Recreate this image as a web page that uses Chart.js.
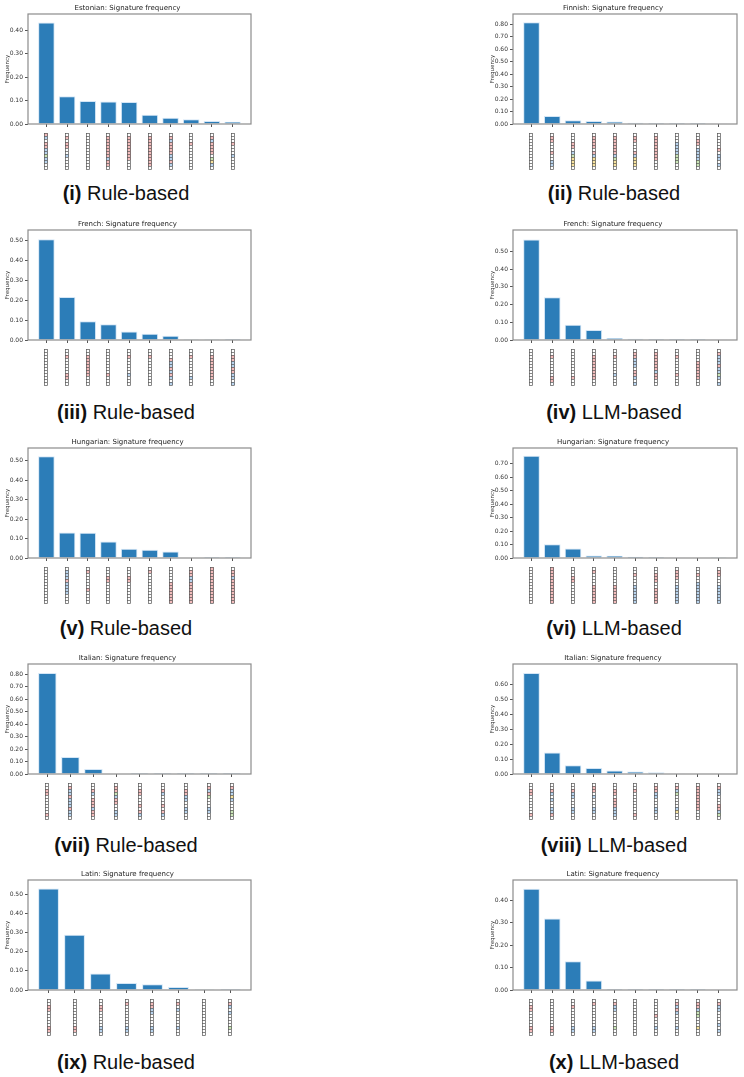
<!DOCTYPE html>
<html>
<head>
<meta charset="utf-8">
<script src="https://cdn.jsdelivr.net/npm/chart.js@4.4.1/dist/chart.umd.min.js"></script>
<style>
  body { margin: 0; background: #fff; }
  #page { position: relative; width: 744px; height: 1077px; overflow: hidden; }
  canvas { position: absolute; }
  .cap {
    position: absolute; transform: translate(-50%, -50%);
    font-family: "Liberation Sans", Arial, sans-serif; font-size: 20px; color: #111;
    white-space: nowrap;
  }
</style>
</head>
<body>
<div id="page"></div>
<script>
// Bar heights (frequency of the top signatures)
const estonianRule = [0.433, 0.118, 0.098, 0.096, 0.094, 0.039, 0.027, 0.020, 0.013, 0.010];
const finnishRule = [0.817, 0.064, 0.030, 0.025, 0.020, 0.010, 0.009, 0.008, 0.008, 0.003];
const frenchRule = [0.508, 0.217, 0.095, 0.080, 0.043, 0.032, 0.022, 0.001, 0.0008, 0.0006];
const frenchLlm = [0.568, 0.242, 0.086, 0.056, 0.011, 0.007, 0.006, 0.005, 0.005, 0.002];
const hungarianRule = [0.524, 0.131, 0.130, 0.085, 0.047, 0.043, 0.033, 0.002, 0.0006, 0.0004];
const hungarianLlm = [0.760, 0.103, 0.070, 0.018, 0.017, 0.010, 0.008, 0.005, 0.004, 0.001];
const italianRule = [0.808, 0.137, 0.040, 0.005, 0.001, 0.0008, 0.0006, 0.0005, 0.0004];
const italianLlm = [0.677, 0.145, 0.059, 0.041, 0.023, 0.016, 0.011, 0.005, 0.004, 0.003];
const latinRule = [0.532, 0.290, 0.086, 0.037, 0.030, 0.016, 0.001, 0.0004];
const latinLlm = [0.452, 0.319, 0.128, 0.042, 0.005, 0.005, 0.004, 0.004, 0.004, 0.003];

// Signature glyphs under each bar: . empty, r red, b blue, g green, y yellow
const estonianRuleSigs = ['rb.rrbbgbb..', '.r.rr..b....', '............', '.rrrrrrrbrr.', '.rrrrrrrr...',
  '.rrrrrrrrrr.', '.rbrrrrbbrb.', '...r........', '.rbrrrr.gyb.', '...r...b....'];
const finnishRuleSigs = ['............', '.rr...r..bb.', '...rr.bgyyy.', '.rrrr.rbyyy.', '.rrrrrrbgyy.',
  '.rr...rbyyy.', '.rrrrrrrr...', '...bbbbggg..', '..rr.bbbbgg.', '.....r.bb.b.'];
const frenchRuleSigs = ['............', '..r.....rr..', '..rrrrrrr...', '........r...', '..r.....b...',
  '..r.........', '...rbbrbrb.b', '..r......b..', '..rrrrrrrr..', '..rrbbrrbb.b'];
const frenchLlmSigs = ['............', '..r......rr.', '.........r..', '..rrrrrrrr..', '..r.....b...',
  '.rrbbb.rrb.b', '.rrrrrrbrr..', '..r.....r...', '....rrrrrr..', '.rbbbrbbgb.b'];
const hungarianRuleSigs = ['............', '.bbbrbbbb...', '.r.....r....', '...rr.......', '...rr.......',
  '.r..........', '.....rrrrrrr', '.rrbbrrrrrrr', 'rrrrrrrrrrrr', '.rrbrrrrrrrr'];
const hungarianLlmSigs = ['............', 'rrrrrrrrrrrr', '...rr.......', '.r....rrrrrr', '......rrrrrr',
  '..r...bbbbbb', '..rrr..rrrrr', '.rrr..bbbbbb', '..r..bbbbbbb', '.rr...bbbbbb'];
const italianRuleSigs = ['..rr......r.', '.rbbrbbbrbb.', '..rb.rrrbrr.', '.rrgbrr..bb.', '..rr...r.rb.',
  '..rb...r.rb.', '..rrbb..bb..', '.rbrg...bb..', '.rbbyb...gg.'];
const italianLlmSigs = ['..rr......r.', '..rb.b..bbr.', '..rbb...bb..', '.rr.b...bb..', '..rr.rrrbbb.',
  '..r.......r.', '.rrbb...bb..', '.rbg....by..', '.rrrrrrrr...', '.rbb...rrbg.'];
const latinRuleSigs = ['..rr.....rr.', '.........rr.', '..rr.....bb.', '.r.......bb.', '.rrbb....bb.',
  '.r.b.....b..', '............', '.rb.b....g..'];
const latinLlmSigs = ['..rr.....rr.', '.........rr.', '..r......bb.', '.r.......bb.', '.rbb.....g..',
  '............', '.....r...b..', '.rbrb....b..', '.rrbgg...y..', '.rbb....b.b.'];

const panelTitles = ['Estonian', 'Finnish', 'French', 'French', 'Hungarian', 'Hungarian',
  'Italian', 'Italian', 'Latin', 'Latin'];
const panelNumerals = ['(i)', '(ii)', '(iii)', '(iv)', '(v)', '(vi)', '(vii)', '(viii)', '(ix)', '(x)'];
const panelMethods = ['Rule-based', 'Rule-based', 'Rule-based', 'LLM-based', 'Rule-based', 'LLM-based',
  'Rule-based', 'LLM-based', 'Rule-based', 'LLM-based'];
const yLimits = [0.469, 0.884, 0.555, 0.621, 0.566, 0.818, 0.881, 0.738, 0.577, 0.491];

const panelValues = [estonianRule, finnishRule, frenchRule, frenchLlm, hungarianRule, hungarianLlm,
  italianRule, italianLlm, latinRule, latinLlm];
const panelSigs = [estonianRuleSigs, finnishRuleSigs, frenchRuleSigs, frenchLlmSigs, hungarianRuleSigs,
  hungarianLlmSigs, italianRuleSigs, italianLlmSigs, latinRuleSigs, latinLlmSigs];

// layout
const rowTops = [14, 230, 448, 664, 880];     // top of the axes box
const capCenters = [193, 412, 628, 845, 1062];
const colLeft = [4, 489];
const colCapX = [126, 614];
const TITLE_H = 14, AXES_H = 110, GLYPH_H = 48, Y_W = 24;

const cellColors = { '.': '#ffffff', r: '#f3bcbc', b: '#b9d4ee', g: '#cbe6b8', y: '#f8e39e' };
const FONT = 'DejaVu Sans';

// matplotlib style frame on all four sides
const framePlugin = {
  id: 'frame',
  afterDraw(chart) {
    const { ctx, chartArea: a } = chart;
    ctx.save();
    ctx.strokeStyle = '#8c8c8c';
    ctx.lineWidth = 1.2;
    ctx.strokeRect(a.left, a.top, a.right - a.left, a.bottom - a.top);
    ctx.restore();
  }
};

// little column of squares under each bar, placed by the x scale
function makeGlyphPlugin(sigs) {
  return {
    id: 'glyphs',
    afterDraw(chart) {
      const { ctx, chartArea: a } = chart;
      const xs = chart.scales.x;
      ctx.save();
      sigs.forEach((sig, i) => {
        const x0 = Math.round(xs.getPixelForValue(i)) - 2;
        const top = Math.round(a.bottom) + 9;
        for (let j = 0; j < sig.length; j++) {
          const y = top + j * 3;
          ctx.fillStyle = cellColors[sig[j]];
          ctx.fillRect(x0, y, 4, 3);
          ctx.strokeStyle = '#555';
          ctx.lineWidth = 0.7;
          ctx.strokeRect(x0 + 0.5, y + 0.5, 3, 3);
        }
      });
      ctx.restore();
    }
  };
}

const page = document.getElementById('page');

panelValues.forEach((vals, p) => {
  const row = Math.floor(p / 2), col = p % 2;
  const n = vals.length;
  const margin = 0.05 * (n - 1 + 0.8);

  const canvas = document.createElement('canvas');
  const w = col === 0 ? 249 : 250;
  const h = TITLE_H + AXES_H + GLYPH_H;
  canvas.width = w; canvas.height = h;
  canvas.style.width = w + 'px'; canvas.style.height = h + 'px';
  canvas.style.left = colLeft[col] + 'px';
  canvas.style.top = (rowTops[row] - TITLE_H) + 'px';
  page.appendChild(canvas);

  new Chart(canvas, {
    type: 'bar',
    data: {
      datasets: [{
        data: vals.map((v, i) => ({ x: i, y: v })),
        backgroundColor: '#2c7db8',
        borderColor: 'rgba(205,226,244,0.85)',
        borderWidth: 1,
        barPercentage: 0.8,
        categoryPercentage: 1.0
      }]
    },
    options: {
      responsive: false,
      animation: false,
      layout: { padding: { right: 2, top: 0, bottom: 0, left: 0 } },
      plugins: {
        legend: { display: false },
        tooltip: { enabled: false },
        title: {
          display: true,
          text: panelTitles[p] + ': Signature frequency',
          color: '#222',
          font: { family: FONT, size: 7, weight: 'normal' },
          padding: { top: 4, bottom: 1.6 }
        }
      },
      scales: {
        x: {
          type: 'linear',
          offset: false,
          min: -0.4 - margin,
          max: n - 1 + 0.4 + margin,
          afterBuildTicks: s => { s.ticks = vals.map((v, i) => ({ value: i })); },
          afterFit: s => { s.height = GLYPH_H; },
          ticks: { display: false },
          grid: { offset: false, drawOnChartArea: false, drawTicks: true, tickLength: 3, color: '#555' },
          border: { display: false }
        },
        y: {
          min: 0,
          max: yLimits[p],
          afterBuildTicks: s => {
            s.ticks = s.ticks.filter(t => Math.abs(t.value * 10 - Math.round(t.value * 10)) < 1e-6);
          },
          afterFit: s => { s.width = Y_W; },
          ticks: {
            stepSize: 0.1,
            padding: 2,
            color: '#333',
            font: { family: FONT, size: 6 },
            callback: v => Number(v).toFixed(2)
          },
          title: {
            display: true,
            text: 'Frequency',
            color: '#333',
            font: { family: FONT, size: 5.5 },
            padding: 0
          },
          grid: { drawOnChartArea: false, drawTicks: true, tickLength: 3, color: '#555' },
          border: { display: false }
        }
      }
    },
    plugins: [framePlugin, makeGlyphPlugin(panelSigs[p])]
  });

  const cap = document.createElement('div');
  cap.className = 'cap';
  cap.style.left = colCapX[col] + 'px';
  cap.style.top = capCenters[row] + 'px';
  cap.innerHTML = '<b>' + panelNumerals[p] + '</b> ' + panelMethods[p];
  page.appendChild(cap);
});
</script>
</body>
</html>
